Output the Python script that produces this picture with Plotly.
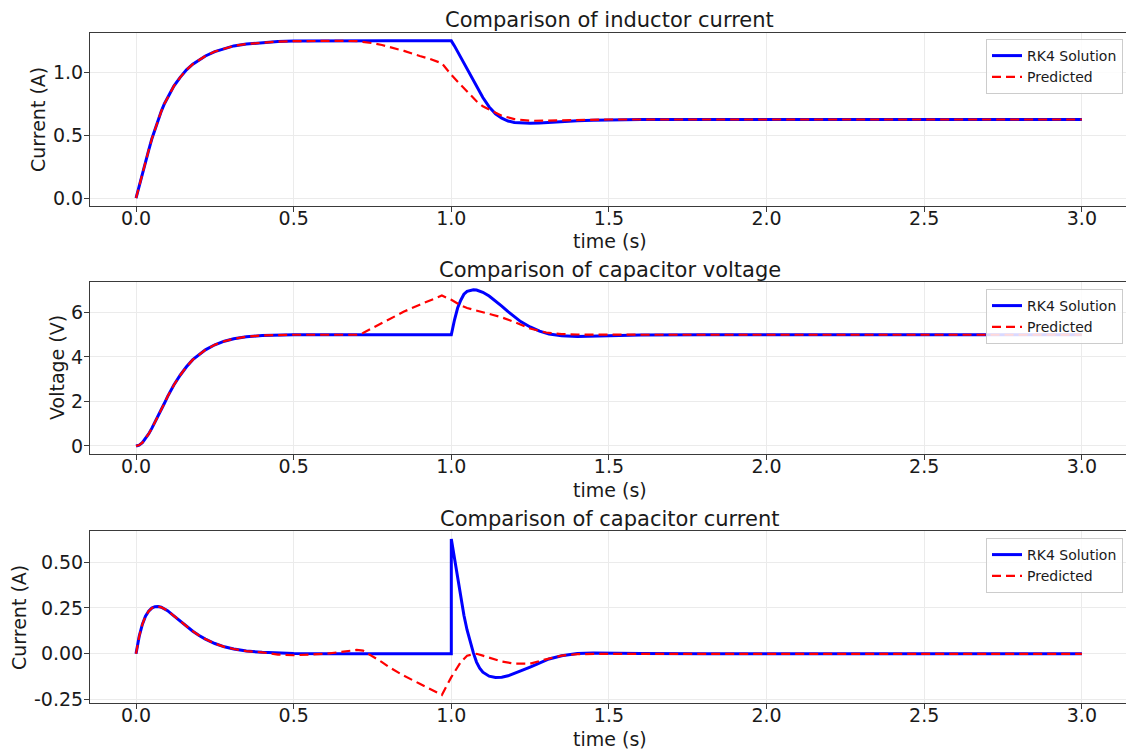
import plotly.graph_objects as go

# ---------------- data ----------------
t_rk4 = [0.00, 0.01, 0.02, 0.03, 0.04, 0.05, 0.06, 0.07, 0.08, 0.09,
         0.10, 0.12, 0.14, 0.16, 0.18, 0.20, 0.22, 0.25, 0.28, 0.31,
         0.35, 0.40, 0.45, 0.50, 0.60, 0.70, 0.80, 0.90, 1.00,
         1.00, 1.01, 1.02, 1.03, 1.04, 1.05, 1.06, 1.07, 1.08, 1.09,
         1.10, 1.12, 1.14, 1.16, 1.18, 1.20, 1.22, 1.25, 1.28, 1.31,
         1.35, 1.40, 1.45, 1.50, 1.60, 1.80, 2.00, 2.50, 3.00]

iL_rk4 = [0.0, 0.10, 0.20, 0.29, 0.38, 0.47, 0.55, 0.62, 0.69, 0.75,
          0.80, 0.89, 0.96, 1.02, 1.065, 1.10, 1.13, 1.165, 1.19, 1.21,
          1.225, 1.237, 1.244, 1.248, 1.25, 1.25, 1.25, 1.25, 1.25,
          1.25, 1.21, 1.165, 1.12, 1.075, 1.03, 0.98, 0.935, 0.89, 0.845,
          0.80, 0.725, 0.67, 0.635, 0.613, 0.602, 0.597, 0.595, 0.598, 0.603,
          0.61, 0.616, 0.62, 0.623, 0.625, 0.625, 0.625, 0.625, 0.625]

vC_rk4 = [0.0, 0.04, 0.15, 0.32, 0.54, 0.79, 1.06, 1.34, 1.63, 1.92,
          2.22, 2.74, 3.18, 3.56, 3.88, 4.12, 4.32, 4.55, 4.71, 4.82,
          4.91, 4.96, 4.985, 4.995, 5.0, 5.0, 5.0, 5.0, 5.0,
          5.0, 5.66, 6.20, 6.55, 6.82, 6.95, 7.00, 7.02, 7.01, 6.97,
          6.91, 6.74, 6.53, 6.29, 6.04, 5.80, 5.59, 5.35, 5.16, 5.03,
          4.95, 4.92, 4.94, 4.96, 4.99, 5.0, 5.0, 5.0, 5.0]

iC_rk4 = [0.0, 0.095, 0.16, 0.205, 0.232, 0.249, 0.257, 0.258, 0.254, 0.246,
          0.235, 0.207, 0.178, 0.15, 0.123, 0.10, 0.08, 0.056, 0.038, 0.026,
          0.015, 0.008, 0.004, 0.002, 0.0005, 0.0, 0.0, 0.0, 0.0,
          0.625, 0.52, 0.41, 0.30, 0.21, 0.13, 0.065, 0.005, -0.045, -0.078,
          -0.10, -0.122, -0.129, -0.128, -0.12, -0.108, -0.093, -0.072, -0.048, -0.028,
          -0.011, 0.001, 0.005, 0.005, 0.002, 0.0, 0.0, 0.0, 0.0]

t_pred = [0.00, 0.01, 0.02, 0.03, 0.04, 0.05, 0.06, 0.07, 0.08, 0.09,
          0.10, 0.12, 0.14, 0.16, 0.18, 0.20, 0.22, 0.25, 0.28, 0.31,
          0.35, 0.40, 0.45, 0.50, 0.55, 0.60, 0.65, 0.70, 0.72, 0.75,
          0.78, 0.80, 0.85, 0.90, 0.93, 0.97, 1.00, 1.03, 1.05, 1.08,
          1.10, 1.13, 1.16, 1.20, 1.25, 1.30, 1.35, 1.40, 1.45, 1.50,
          1.60, 1.80, 2.00, 2.50, 3.00]

iL_pred = [0.0, 0.10, 0.20, 0.29, 0.38, 0.47, 0.55, 0.62, 0.69, 0.75,
           0.80, 0.89, 0.96, 1.02, 1.065, 1.10, 1.13, 1.165, 1.19, 1.21,
           1.225, 1.237, 1.244, 1.248, 1.25, 1.25, 1.25, 1.248, 1.243, 1.232,
           1.217, 1.205, 1.17, 1.13, 1.108, 1.072, 0.98, 0.90, 0.85, 0.77,
           0.73, 0.69, 0.655, 0.628, 0.615, 0.616, 0.619, 0.622, 0.624, 0.625,
           0.625, 0.625, 0.625, 0.625, 0.625]

vC_pred = [0.0, 0.04, 0.15, 0.32, 0.54, 0.79, 1.06, 1.34, 1.63, 1.92,
           2.22, 2.74, 3.18, 3.56, 3.88, 4.12, 4.32, 4.55, 4.71, 4.82,
           4.91, 4.97, 4.995, 5.0, 5.0, 5.0, 5.0, 5.0, 5.08, 5.30,
           5.55, 5.70, 6.04, 6.35, 6.54, 6.76, 6.57, 6.32, 6.20, 6.07,
           6.01, 5.90, 5.78, 5.57, 5.28, 5.10, 5.03, 5.01, 5.0, 5.0,
           5.0, 5.0, 5.0, 5.0, 5.0]

iC_pred = [0.0, 0.095, 0.16, 0.205, 0.232, 0.249, 0.257, 0.258, 0.254, 0.246,
           0.235, 0.207, 0.178, 0.15, 0.123, 0.10, 0.08, 0.056, 0.038, 0.026,
           0.015, 0.008, -0.004, -0.008, -0.005, 0.0, 0.01, 0.021, 0.017, -0.012,
           -0.045, -0.07, -0.12, -0.163, -0.19, -0.224, -0.127, -0.045, -0.01, 0.0,
           -0.01, -0.028, -0.042, -0.054, -0.054, -0.03, -0.01, -0.002, 0.0, 0.0,
           0.0, 0.0, 0.0, 0.0, 0.0]

titles = ["Comparison of inductor current",
          "Comparison of capacitor voltage",
          "Comparison of capacitor current"]
ylabels = ["Current (A)", "Voltage (V)", "Current (A)"]
xlabel = "time (s)"
series_names = ["RK4 Solution", "Predicted"]

x_ticks = [0.0, 0.5, 1.0, 1.5, 2.0, 2.5, 3.0]
x_ticktext = ["0.0", "0.5", "1.0", "1.5", "2.0", "2.5", "3.0"]
y_ticks = [[0.0, 0.5, 1.0], [0, 2, 4, 6], [-0.25, 0.0, 0.25, 0.50]]
y_ticktext = [["0.0", "0.5", "1.0"], ["0", "2", "4", "6"],
              ["-0.25", "0.00", "0.25", "0.50"]]
y_ranges = [[-0.0625, 1.3125], [-0.36, 7.37], [-0.268, 0.669]]
x_range = [-0.146, 3.14]

# ---------------- layout geometry ----------------
W, H = 1126, 749
FONT = "DejaVu Sans"
x_dom = [90 / W, 1.0]
rows_px = [(33, 206), (282, 454), (531, 703)]
y_doms = [[1 - b / H, 1 - t / H] for (t, b) in rows_px]

fig = go.Figure()
rk_sets = [iL_rk4, vC_rk4, iC_rk4]
pr_sets = [iL_pred, vC_pred, iC_pred]
legend_ids = ["legend", "legend2", "legend3"]

for k in range(3):
    xa = "x" if k == 0 else f"x{k+1}"
    ya = "y" if k == 0 else f"y{k+1}"
    fig.add_trace(go.Scatter(x=t_rk4, y=rk_sets[k], mode="lines", name=series_names[0],
                             line=dict(color="#0000ff", width=3),
                             xaxis=xa, yaxis=ya, legend=legend_ids[k]))
    fig.add_trace(go.Scatter(x=t_pred, y=pr_sets[k], mode="lines", name=series_names[1],
                             line=dict(color="#ff0000", width=2.2, dash="9px,5px"),
                             xaxis=xa, yaxis=ya, legend=legend_ids[k]))

axis_common = dict(showgrid=True, gridcolor="#ebebeb", gridwidth=1,
                   showline=True, linecolor="#3a3a3a", linewidth=1,
                   ticks="outside", ticklen=5, tickwidth=1, tickcolor="#3a3a3a",
                   tickfont=dict(family=FONT, size=19, color="#1a1a1a"),
                   zeroline=False, automargin=False)

layout = dict(width=W, height=H, margin=dict(l=0, r=0, t=0, b=0),
              paper_bgcolor="white", plot_bgcolor="white",
              font=dict(family=FONT, color="#1a1a1a"))

for k in range(3):
    xs = "xaxis" if k == 0 else f"xaxis{k+1}"
    ys = "yaxis" if k == 0 else f"yaxis{k+1}"
    ya = "y" if k == 0 else f"y{k+1}"
    xa = "x" if k == 0 else f"x{k+1}"
    layout[xs] = dict(axis_common, domain=x_dom, anchor=ya, range=x_range,
                      tickvals=x_ticks, ticktext=x_ticktext, mirror=True,
                      ticklabelstandoff=-10)
    layout[ys] = dict(axis_common, domain=y_doms[k], anchor=xa, range=y_ranges[k],
                      tickvals=y_ticks[k], ticktext=y_ticktext[k], mirror=False,
                      ticklabelstandoff=-3)

legend_tops = [39, 289, 538]
for k in range(3):
    layout[legend_ids[k]] = dict(x=1123 / W, xanchor="right", y=1 - legend_tops[k] / H,
                                 yanchor="top", bgcolor="rgba(255,255,255,0.85)",
                                 bordercolor="#cccccc", borderwidth=1,
                                 font=dict(family=FONT, size=14, color="#1a1a1a"),
                                 tracegroupgap=0)

fig.update_layout(**layout)

title_y = [20, 270, 519]
xlabel_y = [241, 490, 739]
ylabel_pos = [(38, 120), (57, 368), (19, 618)]
center_x = (90 + 1129) / 2
for k in range(3):
    fig.add_annotation(text=titles[k], x=center_x / W, y=1 - title_y[k] / H,
                       xref="paper", yref="paper", showarrow=False,
                       xanchor="center", yanchor="middle",
                       font=dict(family=FONT, size=21, color="#1a1a1a"))
    fig.add_annotation(text=xlabel, x=center_x / W, y=1 - xlabel_y[k] / H,
                       xref="paper", yref="paper", showarrow=False,
                       xanchor="center", yanchor="middle",
                       font=dict(family=FONT, size=19, color="#1a1a1a"))
    fig.add_annotation(text=ylabels[k], x=ylabel_pos[k][0] / W, y=1 - ylabel_pos[k][1] / H,
                       xref="paper", yref="paper", showarrow=False, textangle=-90,
                       xanchor="center", yanchor="middle",
                       font=dict(family=FONT, size=19, color="#1a1a1a"))

fig.write_html("out.html",
               config={"displayModeBar": False},
               post_script="document.body.style.margin='0px';document.body.style.overflow='hidden';")
